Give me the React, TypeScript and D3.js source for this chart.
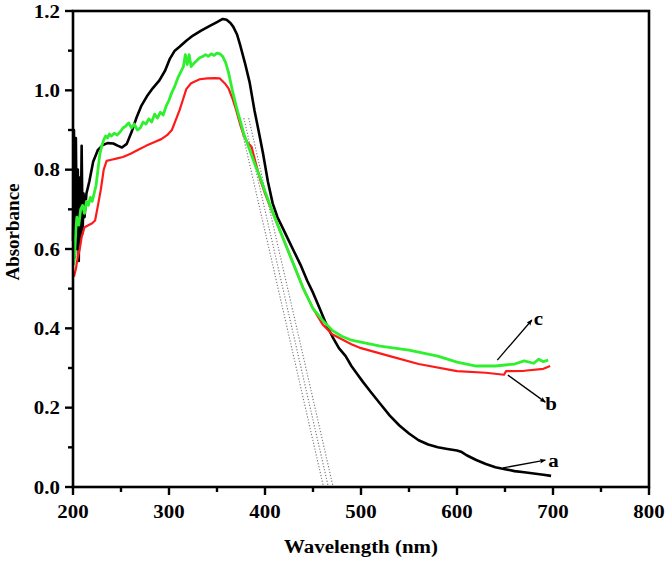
import React from 'react';
import * as d3 from 'd3';

// curve a (black)
const waveA = [200, 201, 202, 203, 204, 205, 206, 207, 208, 209, 210, 211, 212, 214, 217, 221, 226, 231, 236, 242, 247, 251, 256, 261, 266, 271, 277, 283, 290, 296, 301, 306, 311, 318, 325, 333, 343, 350, 356, 360, 364, 367, 371, 374, 379, 384, 389, 394, 398, 403, 408, 413, 418, 424, 430, 437, 444, 450, 457, 463, 470, 477, 484, 490, 496, 502, 510, 520, 530, 540, 550, 560, 570, 580, 590, 600, 605, 610, 620, 630, 640, 650, 660, 670, 680, 690, 698];
const absA = [0.62, 0.9, 0.58, 0.88, 0.6, 0.8, 0.57, 0.78, 0.62, 0.86, 0.64, 0.74, 0.68, 0.74, 0.77, 0.82, 0.85, 0.862, 0.867, 0.866, 0.86, 0.856, 0.865, 0.895, 0.93, 0.96, 0.985, 1.005, 1.025, 1.05, 1.08, 1.1, 1.11, 1.125, 1.138, 1.15, 1.163, 1.172, 1.18, 1.178, 1.17, 1.16, 1.14, 1.115, 1.07, 1.02, 0.95, 0.89, 0.84, 0.77, 0.715, 0.68, 0.655, 0.625, 0.595, 0.56, 0.52, 0.49, 0.45, 0.415, 0.38, 0.35, 0.33, 0.305, 0.285, 0.265, 0.24, 0.21, 0.18, 0.155, 0.135, 0.118, 0.107, 0.1, 0.096, 0.092, 0.088, 0.08, 0.068, 0.058, 0.05, 0.045, 0.04, 0.037, 0.034, 0.031, 0.028];

// curve b (red)
const waveB = [201, 203, 205, 207, 209, 212, 216, 220, 223, 226, 229, 232, 235, 240, 245, 252, 260, 268, 276, 285, 292, 298, 303, 307, 311, 315, 318, 323, 332, 340, 348, 353, 358, 362, 366, 370, 374, 378, 382, 386, 390, 395, 400, 410, 420, 430, 440, 450, 460, 470, 478, 490, 500, 530, 560, 600, 630, 649, 651, 670, 690, 697];
const absB = [0.53, 0.55, 0.58, 0.6, 0.63, 0.655, 0.66, 0.665, 0.672, 0.71, 0.75, 0.8, 0.822, 0.825, 0.828, 0.832, 0.84, 0.85, 0.86, 0.87, 0.877, 0.887, 0.9, 0.925, 0.95, 0.98, 1.003, 1.018, 1.028, 1.03, 1.031, 1.03, 1.018, 1.005, 0.98, 0.95, 0.915, 0.885, 0.868, 0.858, 0.82, 0.775, 0.74, 0.68, 0.62, 0.56, 0.5, 0.45, 0.41, 0.385, 0.375, 0.36, 0.35, 0.33, 0.31, 0.292, 0.288, 0.283, 0.292, 0.293, 0.298, 0.305];

// curve c (green)
const waveC = [201, 202, 203, 204, 206, 208, 210, 212, 214, 216, 218, 220, 222, 224, 226, 228, 230, 232, 234, 236, 238, 240, 243, 246, 249, 252, 255, 258, 261, 264, 267, 270, 273, 276, 279, 282, 285, 288, 291, 294, 297, 300, 303, 306, 309, 312, 315, 317, 319, 321, 323, 326, 329, 332, 335, 338, 341, 344, 347, 350, 353, 356, 359, 362, 366, 370, 374, 378, 384, 390, 395, 400, 410, 420, 430, 440, 450, 460, 470, 480, 490, 500, 520, 550, 580, 600, 620, 640, 660, 670, 680, 685, 690, 695];
const absC = [0.56, 0.6, 0.65, 0.68, 0.66, 0.7, 0.71, 0.69, 0.72, 0.71, 0.73, 0.72, 0.74, 0.76, 0.8, 0.84, 0.86, 0.875, 0.885, 0.88, 0.89, 0.885, 0.892, 0.887, 0.895, 0.905, 0.91, 0.918, 0.905, 0.915, 0.9, 0.905, 0.92, 0.915, 0.928, 0.92, 0.94, 0.93, 0.945, 0.938, 0.96, 0.975, 0.995, 1.01, 1.03, 1.045, 1.06, 1.09, 1.065, 1.09, 1.06, 1.068, 1.075, 1.082, 1.085, 1.09, 1.086, 1.092, 1.088, 1.094, 1.092, 1.085, 1.07, 1.045, 1.0, 0.96, 0.925, 0.89, 0.85, 0.81, 0.78, 0.745, 0.68, 0.62, 0.56, 0.5, 0.45, 0.42, 0.395, 0.38, 0.37, 0.365, 0.355, 0.345, 0.33, 0.315, 0.305, 0.305, 0.31, 0.318, 0.312, 0.322, 0.316, 0.32];

// dotted tangent lines: top wavelength at tangentTopAbs, x-intercept at bottom
const tangentTop = [373, 378, 383];
const tangentTopAbs = 0.93;
const tangentBottom = [461, 466, 471];

const xTicks = [200, 300, 400, 500, 600, 700, 800];
const xMinor = [250, 350, 450, 550, 650, 750];
const yTicks = [0.0, 0.2, 0.4, 0.6, 0.8, 1.0, 1.2];
const yMinor = [0.1, 0.3, 0.5, 0.7, 0.9, 1.1];

// annotation arrows [fromWave, fromAbs, toWave, toAbs], label [wave, abs]
const labels = ['a', 'b', 'c'];
const arrowFrom = [[648, 0.048], [653, 0.282], [642, 0.32]];
const arrowTo = [[692, 0.068], [692, 0.214], [678, 0.421]];
const labelPos = [[695, 0.05], [692, 0.194], [680, 0.408]];

const W = 666, H = 561;
const x = d3.scaleLinear().domain([200, 800]).range([73, 649]);
const y = d3.scaleLinear().domain([0, 1.2]).range([487, 11]);

const line = d3.line<[number, number]>()
  .x(d => x(d[0]))
  .y(d => y(d[1]));

const font = '"Liberation Serif", "Times New Roman", serif';

const App: React.FC = () => {
  const series = [
    { w: waveA, a: absA, color: '#000000', sw: 2.6 },
    { w: waveB, a: absB, color: '#ff1a1a', sw: 2.2 },
    { w: waveC, a: absC, color: '#2ef02e', sw: 2.8 },
  ];
  const slope = (i: number) => (tangentBottom[i] - tangentTop[i]);

  return (
    <div>
      <style>{`body{margin:0}`}</style>
      <svg width={W} height={H} style={{ display: 'block', background: '#fff' }} fontFamily={font} fontWeight="bold">
        <defs>
          <marker id="arrow" viewBox="0 0 10 10" refX="9" refY="5" markerWidth="7" markerHeight="6" orient="auto" markerUnits="userSpaceOnUse">
            <path d="M0,1 L10,5 L0,9 L2,5 Z" fill="#000" />
          </marker>
        </defs>

        {/* tangent lines */}
        {tangentTop.map((t, i) => (
          <line key={'t' + i} x1={x(t)} y1={y(tangentTopAbs)} x2={x(t + slope(i))} y2={y(0)}
            stroke="#777" strokeWidth={1.1} strokeDasharray="1.2,1.8" />
        ))}

        {/* curves */}
        {series.map((s, i) => (
          <path key={i} d={line(s.w.map((w, j) => [w, s.a[j]] as [number, number])) || ''}
            fill="none" stroke={s.color} strokeWidth={s.sw} strokeLinejoin="round" />
        ))}

        {/* frame */}
        <rect x={x(200)} y={y(1.2)} width={x(800) - x(200)} height={y(0) - y(1.2)} fill="none" stroke="#000" strokeWidth={2.6} />

        {/* x ticks */}
        {xTicks.map(t => (
          <g key={'x' + t}>
            <line x1={x(t)} x2={x(t)} y1={y(0)} y2={y(0) + 8} stroke="#000" strokeWidth={2.4} />
            <text transform={`translate(${x(t)},518) scale(1.1,1)`} textAnchor="middle" fontSize={19}>{t}</text>
          </g>
        ))}
        {xMinor.map(t => (
          <line key={'xm' + t} x1={x(t)} x2={x(t)} y1={y(0)} y2={y(0) + 5} stroke="#000" strokeWidth={2.4} />
        ))}

        {/* y ticks */}
        {yTicks.map(t => (
          <g key={'y' + t}>
            <line x1={x(200) - 8} x2={x(200)} y1={y(t)} y2={y(t)} stroke="#000" strokeWidth={2.4} />
            <text transform={`translate(60,${y(t) + 6.5}) scale(1.1,1)`} textAnchor="end" fontSize={19}>{t.toFixed(1)}</text>
          </g>
        ))}
        {yMinor.map(t => (
          <line key={'ym' + t} x1={x(200) - 5} x2={x(200)} y1={y(t)} y2={y(t)} stroke="#000" strokeWidth={2.4} />
        ))}

        {/* annotations */}
        {labels.map((l, i) => (
          <g key={l}>
            <line x1={x(arrowFrom[i][0])} y1={y(arrowFrom[i][1])} x2={x(arrowTo[i][0])} y2={y(arrowTo[i][1])}
              stroke="#000" strokeWidth={1.3} markerEnd="url(#arrow)" />
            <text transform={`translate(${x(labelPos[i][0])},${y(labelPos[i][1])}) scale(1.1,1)`} fontSize={19}>{l}</text>
          </g>
        ))}

        {/* axis titles */}
        <text transform={`translate(${(x(200) + x(800)) / 2},553) scale(1.1,1)`} textAnchor="middle" fontSize={19}>Wavelength (nm)</text>
        <text transform="translate(19,232) rotate(-90)" textAnchor="middle" fontSize={19}>Absorbance</text>
      </svg>
    </div>
  );
};

export default App;
